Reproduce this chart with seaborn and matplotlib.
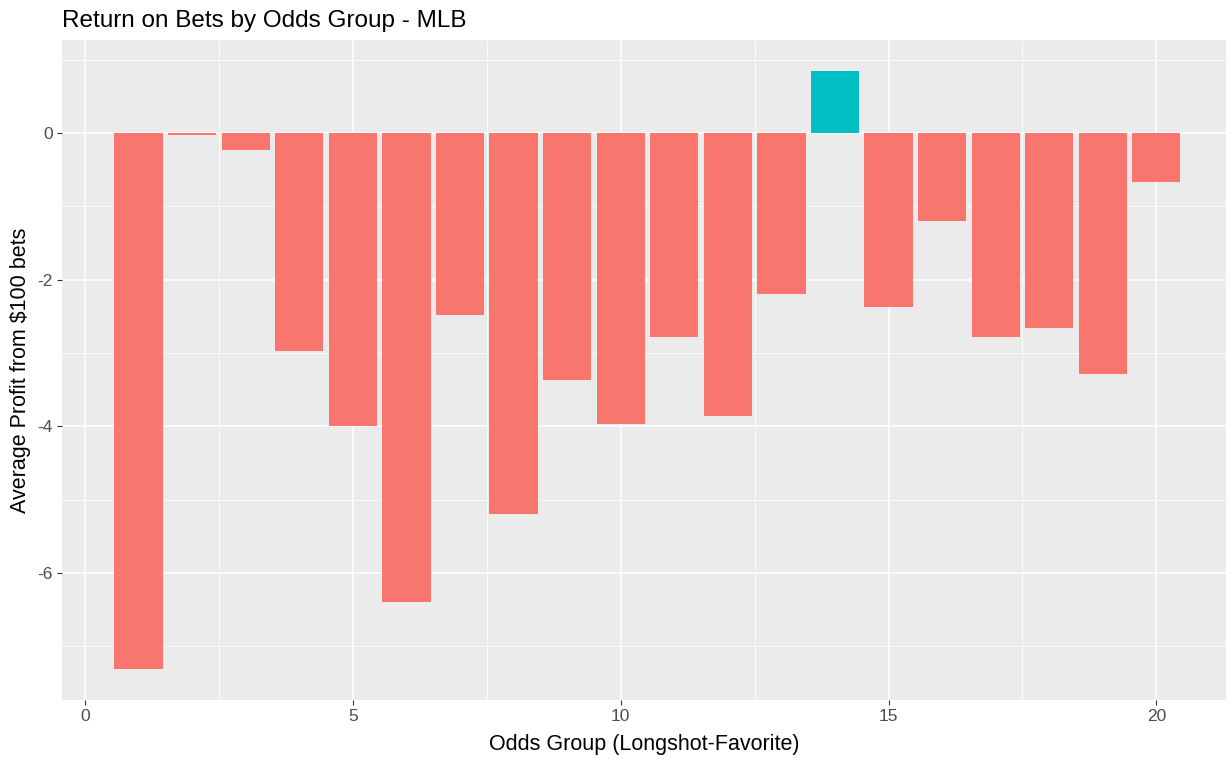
import numpy as np
import pandas as pd
import matplotlib
matplotlib.use('Agg')
import matplotlib.pyplot as plt
import seaborn as sns

# values
odds_group = list(range(1, 21))
avg_profit = [-7.31, -0.03, -0.23, -2.97, -4.00, -6.40, -2.48, -5.20, -3.37, -3.97,
              -2.78, -3.86, -2.20, 0.85, -2.37, -1.20, -2.78, -2.66, -3.29, -0.67]

df = pd.DataFrame({'group': odds_group, 'profit': avg_profit})
df['positive'] = np.where(df['profit'] > 0, 'pos', 'neg')

sns.set_theme(style='darkgrid', rc={
    'axes.facecolor': '#EBEBEB',
    'grid.color': 'white',
    'axes.edgecolor': '#EBEBEB',
})
plt.rcParams['font.family'] = ['Liberation Sans', 'DejaVu Sans']
plt.rcParams['axes.unicode_minus'] = False

fig = plt.figure(figsize=(12.3, 7.59), dpi=100)
ax = fig.add_axes([62 / 1230, 1 - 700 / 759, (1226 - 62) / 1230, (700 - 40) / 759])

sns.barplot(data=df, x='group', y='profit', hue='positive',
            palette={'neg': '#F8766D', 'pos': '#00BFC4'},
            native_scale=True, width=0.9, dodge=False, legend=False,
            saturation=1, linewidth=0, ax=ax, zorder=3)

ax.set_xlim(-0.43, 21.3)
ax.set_ylim(-7.73, 1.27)
ax.set_xticks([0, 5, 10, 15, 20])
ax.set_xticks([2.5, 7.5, 12.5, 17.5], minor=True)
ax.set_yticks([-6, -4, -2, 0])
ax.set_yticks([-7, -5, -3, -1, 1], minor=True)
ax.grid(which='major', color='white', linewidth=1.1)
ax.grid(which='minor', color='white', linewidth=0.55)
ax.set_axisbelow(True)
for s in ax.spines.values():
    s.set_visible(False)

ax.tick_params(axis='both', which='major', labelsize=12.5, labelcolor='#4D4D4D',
               color='#333333', length=3.5, width=0.8, pad=3, bottom=True, left=True)
ax.tick_params(axis='both', which='minor', length=0)

ax.set_xlabel('Odds Group (Longshot-Favorite)', fontsize=15.5, color='black', labelpad=7)
ax.set_ylabel('Average Profit from $100 bets', fontsize=15.5, color='black', labelpad=5)
ax.set_title('Return on Bets by Odds Group - MLB', fontsize=17.5, loc='left', pad=9, color='black')

fig.savefig('out.png', dpi=100)
